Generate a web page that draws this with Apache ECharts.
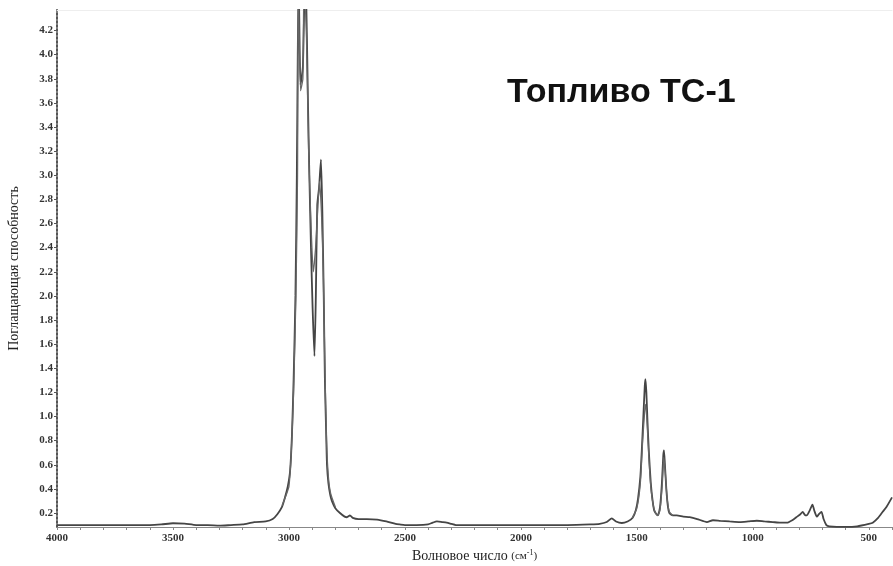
<!DOCTYPE html>
<html>
<head>
<meta charset="utf-8">
<script src="https://cdn.jsdelivr.net/npm/echarts@6/dist/echarts.min.js"></script>
<style>html,body{margin:0;padding:0;background:#fff}#c{width:893px;height:566px}</style>
</head>
<body>
<div id="c"></div>
<script>
// Spectrum A (main trace): wavenumber (cm-1) and absorbance
const wnA = [4000,3900,3800,3700,3600,3550,3500,3450,3400,3350,3300,3250,3200,3150,3100,3070,3050,3030,3017,3005,2995,2987,2980,2972,2966,2962,2958,2950,2940,2931,2925,2918,2912,2905,2898,2890,2884,2878,2870,2862,2856,2850,2845,2840,2836,2830,2822,2815,2800,2780,2760,2750,2737,2725,2700,2664,2620,2580,2540,2522,2500,2450,2400,2380,2362,2340,2320,2300,2280,2200,2100,2000,1900,1800,1700,1660,1630,1608,1590,1565,1540,1518,1505,1495,1485,1478,1472,1466,1463,1459,1454,1448,1440,1432,1425,1410,1400,1392,1386,1383,1379,1373,1366,1360,1345,1328,1300,1272,1240,1198,1172,1140,1100,1056,1020,983,950,914,880,853,830,811,795,785,776,768,755,743,735,724,715,704,695,683,670,600,550,500,483,460,440,424,400];
const absA = [0.10,0.10,0.10,0.10,0.10,0.105,0.115,0.112,0.10,0.10,0.095,0.10,0.105,0.125,0.13,0.15,0.19,0.25,0.33,0.42,0.55,0.85,1.3,2.0,3.0,4.0,4.6,3.75,3.9,4.6,4.4,3.6,3.0,2.4,1.9,1.5,2.0,2.75,2.9,3.13,2.7,2.0,1.3,0.9,0.6,0.45,0.35,0.30,0.24,0.20,0.17,0.165,0.18,0.16,0.15,0.15,0.145,0.13,0.11,0.105,0.10,0.10,0.105,0.12,0.13,0.125,0.12,0.11,0.10,0.10,0.10,0.10,0.10,0.10,0.105,0.11,0.125,0.156,0.13,0.117,0.13,0.16,0.22,0.32,0.5,0.75,1.0,1.25,1.31,1.2,0.95,0.7,0.45,0.3,0.22,0.18,0.25,0.45,0.68,0.72,0.6,0.4,0.25,0.2,0.18,0.18,0.17,0.165,0.15,0.125,0.14,0.135,0.13,0.125,0.13,0.136,0.13,0.125,0.12,0.12,0.14,0.167,0.19,0.21,0.185,0.18,0.22,0.27,0.22,0.17,0.19,0.21,0.15,0.10,0.09,0.085,0.09,0.11,0.12,0.16,0.21,0.25,0.33];
// Spectrum B (overlaid trace, C-H stretch region)
const wnB = [3030,3010,3000,2990,2980,2970,2963,2960,2950,2940,2935,2925,2915,2905,2895,2885,2875,2868,2860,2852,2845,2838,2830,2820,2800];
const absB = [0.26,0.36,0.42,0.7,1.2,2.0,3.0,4.6,3.7,3.8,4.6,4.2,3.2,2.6,2.2,2.4,2.75,2.95,2.7,2.2,1.4,0.8,0.5,0.36,0.25];
// Spectrum C (overlaid trace, C-H bending region)
const wnC = [1520,1500,1485,1475,1466,1462,1456,1448,1440,1430,1420,1410,1400,1390,1384,1378,1370,1360,1345];
const absC = [0.16,0.24,0.45,0.8,1.05,1.10,0.95,0.65,0.42,0.27,0.2,0.18,0.23,0.45,0.66,0.55,0.33,0.21,0.18];
// Tick labels
const xTicks = [4000,3500,3000,2500,2000,1500,1000,500];
const yTicks = [0.2,0.4,0.6,0.8,1.0,1.2,1.4,1.6,1.8,2.0,2.2,2.4,2.6,2.8,3.0,3.2,3.4,3.6,3.8,4.0,4.2];
const xMinor = [];
for (let v = 4000; v >= 400; v -= 100) xMinor.push(v);

const pairs = (w, a) => w.map((x, i) => [x, a[i]]);
const chart = echarts.init(document.getElementById('c'));
const lineColor = '#454545';
const serif = '"Liberation Serif","DejaVu Serif",serif';
chart.setOption({
  animation: false,
  backgroundColor: '#fff',
  title: {
    text: 'Топливо ТС-1', left: 502, top: 71,
    textStyle: { fontFamily: '"Liberation Sans",Arial,sans-serif', fontWeight: 'bold', fontSize: 34, color: '#111' }
  },
  grid: { left: 57, right: 1, top: 10, bottom: 39, outerBoundsMode: 'none', containLabel: false },
  xAxis: [{
    type: 'value', inverse: true, min: 400, max: 4000,
    name: 'Волновое число {s|(см}{sup|-1}{s|)}',
    nameLocation: 'middle', nameGap: 22,
    nameTextStyle: { fontFamily: serif, fontSize: 14, color: '#222',
      rich: { s: { fontFamily: serif, fontSize: 11, color: '#222' }, sup: { fontFamily: serif, fontSize: 8, color: '#222', verticalAlign: 'top', padding: [0,0,6,0] } } },
    splitLine: { show: false },
    axisLine: { show: true, onZero: false, lineStyle: { color: '#888', width: 1 } },
    axisTick: { show: true, customValues: xMinor, length: 3, lineStyle: { color: '#888' } },
    axisLabel: { customValues: xTicks, fontFamily: serif, fontWeight: 'bold', fontSize: 11, color: '#333', margin: 6,
      formatter: v => String(v) }
  }, {
    type: 'value', inverse: true, min: 400, max: 4000, position: 'top',
    axisLine: { show: true, lineStyle: { color: '#eee' } },
    axisTick: { show: false }, axisLabel: { show: false }, splitLine: { show: false }
  }],
  yAxis: [{
    type: 'value', min: 0.084, max: 4.37,
    name: 'Поглащающая способность', nameLocation: 'middle', nameGap: 36,
    nameTextStyle: { fontFamily: serif, fontSize: 14, color: '#222' },
    splitLine: { show: false },
    axisLine: { show: true, lineStyle: { color: '#555', width: 2, type: 'dotted' } },
    axisTick: { show: true, customValues: yTicks, length: 3, lineStyle: { color: '#555' } },
    axisLabel: { customValues: yTicks, fontFamily: serif, fontWeight: 'bold', fontSize: 11, color: '#333', margin: 4,
      formatter: v => v.toFixed(1) }
  }],
  series: [
    { type: 'line', data: pairs(wnA, absA), showSymbol: false, smooth: 0.2, lineStyle: { color: lineColor, width: 1.8 }, clip: true },
    { type: 'line', data: pairs(wnB, absB), showSymbol: false, smooth: 0.2, lineStyle: { color: '#666', width: 1.3 }, clip: true },
    { type: 'line', data: pairs(wnC, absC), showSymbol: false, smooth: 0.2, lineStyle: { color: '#666', width: 1.3 }, clip: true }
  ]
});
</script>
</body>
</html>
